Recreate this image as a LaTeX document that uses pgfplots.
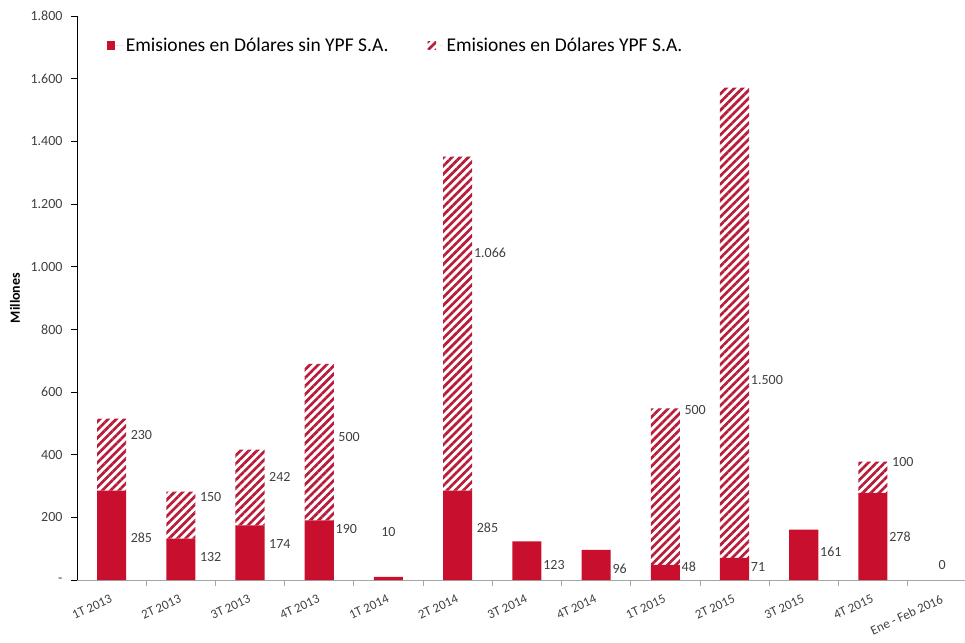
\documentclass[border=0pt]{standalone}
\usepackage{pgfplots}
\pgfplotsset{compat=1.18}
\usepackage{pgfplotstable}
\usepackage{fontspec}
\setmainfont{Carlito}
\usetikzlibrary{patterns.meta}

\definecolor{rojo}{HTML}{C8102E}
\definecolor{rayas}{HTML}{B81C3A}
\definecolor{gristxt}{HTML}{404040}

\pgfplotstableread{
x bajo alto
0 285 230
1 132 150
2 174 242
3 190 500
4 10 0
5 285 1066
6 123 0
7 96 0
8 48 500
9 71 1500
10 161 0
11 278 100
12 0 0
}\datos

\begin{document}
\begin{tikzpicture}
% marco igual al de la imagen original
\useasboundingbox (-77pt,-62pt) rectangle (888pt,580pt);
\begin{axis}[
    scale only axis,
    width=888pt, height=564pt,
    xmin=-0.5, xmax=12.33,
    ymin=0, ymax=1800,
    ybar stacked,
    bar width=0.42,
    clip=false,
    axis x line*=bottom,
    axis y line*=left,
    x axis line style={draw=gray!70, line width=0.8pt},
    y axis line style={draw=black, line width=0.8pt},
    xtick={0,...,12},
    xticklabels={1T 2013, 2T 2013, 3T 2013, 4T 2013, 1T 2014, 2T 2014, 3T 2014, 4T 2014, 1T 2015, 2T 2015, 3T 2015, 4T 2015, Ene - Feb 2016},
    major x tick style={draw=none},
    minor xtick={0.5,1.5,...,11.5},
    minor x tick style={draw=gray!70, line width=0.8pt},
    minor tick length=6pt,
    x tick label style={rotate=25, anchor=north east, font=\fontsize{13}{15}\selectfont, text=gristxt, yshift=-3pt, xshift=-2pt},
    ytick={0,200,...,1800},
    yticklabels={-,200,400,600,800,1.000,1.200,1.400,1.600,1.800},
    y tick label style={font=\fontsize{14}{16}\selectfont, text=gristxt, xshift=-5pt},
    major y tick style={draw=black, line width=0.8pt},
    major tick length=6pt,
    tick align=outside,
    /pgf/number format/assume math mode=true,
    ylabel={\textbf{Millones}},
    ylabel style={font=\fontsize{14}{16}\selectfont, at={(axis description cs:-0.0698,0.5)}, anchor=center},
    legend style={draw=none, fill=none, at={(0.03,0.948)}, anchor=west,
        legend columns=2, font=\fontsize{19.5}{21}\selectfont, text=black,
        /tikz/every even column/.append style={column sep=37pt}},
    legend image code/.code={\fill[#1] (0pt,-4.2pt) rectangle (8.5pt,4.2pt); \path (0pt,0pt) -- (17pt,0pt);},
]
\addplot[fill=rojo, draw=none] table[x=x, y=bajo] {\datos};
\addplot[draw=none, pattern={Lines[angle=45, distance=5.8pt, line width=2.7pt]}, pattern color=rayas] table[x=x, y=alto] {\datos};
\legend{Emisiones en Dólares sin YPF S.A., Emisiones en Dólares YPF S.A.}

\tikzset{lbl/.style={anchor=west, font=\fontsize{14}{16}\selectfont, text=gristxt, inner sep=1pt}}
\node[lbl] at (axis cs:0.26,463) {230};
\node[lbl] at (axis cs:0.26,134) {285};
\node[lbl] at (axis cs:1.26,265) {150};
\node[lbl] at (axis cs:1.26,73) {132};
\node[lbl] at (axis cs:2.26,328) {242};
\node[lbl] at (axis cs:2.26,115) {174};
\node[lbl] at (axis cs:3.26,456) {500};
\node[lbl] at (axis cs:3.22,163) {190};
\node[lbl, anchor=center] at (axis cs:4,153) {10};
\node[lbl] at (axis cs:5.22,1043) {1.066};
\node[lbl] at (axis cs:5.26,166) {285};
\node[lbl] at (axis cs:6.22,48) {123};
\node[lbl] at (axis cs:7.22,35) {96};
\node[lbl] at (axis cs:8.26,542) {500};
\node[lbl] at (axis cs:8.22,41) {48};
\node[lbl] at (axis cs:9.22,638) {1.500};
\node[lbl] at (axis cs:9.22,41) {71};
\node[lbl] at (axis cs:10.22,89) {161};
\node[lbl] at (axis cs:11.26,377) {100};
\node[lbl] at (axis cs:11.22,137) {278};
\node[lbl, anchor=center] at (axis cs:12,48) {0};
\end{axis}
\end{tikzpicture}
\end{document}
